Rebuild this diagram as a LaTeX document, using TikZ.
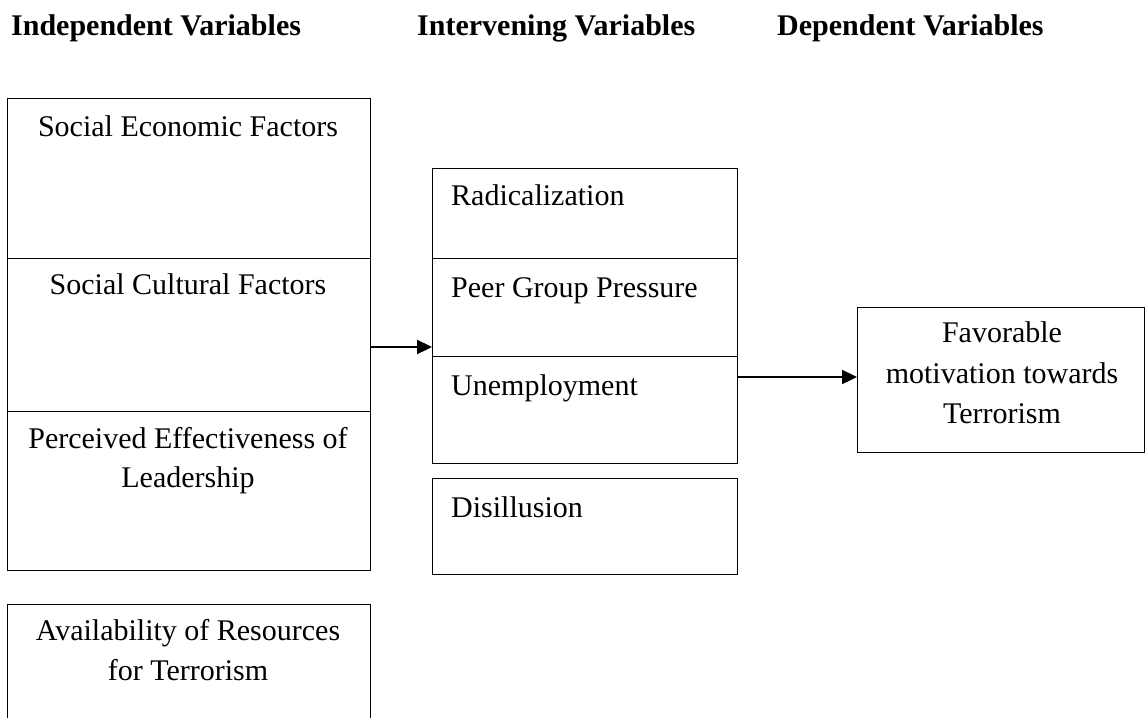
\documentclass[tikz,border=0pt]{standalone}
\usepackage{fontspec}
\setmainfont{Liberation Serif}
\usetikzlibrary{arrows.meta}
\begin{document}
\begin{tikzpicture}[x=1pt,y=-1pt,
  box/.style={draw, line width=1pt, inner sep=0pt, anchor=north west},
  txt/.style={anchor=base, inner sep=0pt, font=\fontsize{30}{40}\selectfont},
  ltxt/.style={anchor=base west, inner sep=0pt, font=\fontsize{30}{40}\selectfont},
  head/.style={anchor=base west, inner sep=0pt, font=\fontsize{30}{40}\selectfont\bfseries},
  arr/.style={line width=2.3pt, -{Triangle[length=15pt,width=14pt]}}]
\useasboundingbox (0,0) rectangle (1145,717);
\clip (0,0) rectangle (1145,717);
% headers
\node[head] (h1) at (11,36) {Independent Variables};
\node[head] (h2) at (417,36) {Intervening Variables};
\node[head] (h3) at (777,36) {Dependent Variables};
% left column
\node[box, minimum width=363pt, minimum height=160pt] (se) at (7,98) {};
\node[box, minimum width=363pt, minimum height=153pt] (sc) at (7,258) {};
\node[box, minimum width=363pt, minimum height=159pt] (pe) at (7,411) {};
\node[box, minimum width=363pt, minimum height=140pt] (av) at (7,604) {};
\node[txt] (tse) at (188,136) {Social Economic Factors};
\node[txt] (tsc) at (188,294) {Social Cultural Factors};
\node[txt] (tpe1) at (188,448) {Perceived Effectiveness of};
\node[txt] (tpe2) at (188,487) {Leadership};
\node[txt] (tav1) at (188,640) {Availability of Resources};
\node[txt] (tav2) at (188,680) {for Terrorism};
% middle column
\node[box, minimum width=305pt, minimum height=90pt] (rad) at (432,168) {};
\node[box, minimum width=305pt, minimum height=98pt] (peer) at (432,258) {};
\node[box, minimum width=305pt, minimum height=107pt] (unemp) at (432,356) {};
\node[box, minimum width=305pt, minimum height=96pt] (dis) at (432,478) {};
\node[ltxt] (trad) at (451,205) {Radicalization};
\node[ltxt] (tpeer) at (451,297) {Peer Group Pressure};
\node[ltxt] (tunemp) at (451,395) {Unemployment};
\node[ltxt] (tdis) at (451,517) {Disillusion};
% right
\node[box, minimum width=287pt, minimum height=145pt] (fav) at (857,307) {};
\node[txt] (tf1) at (1002,342) {Favorable};
\node[txt] (tf2) at (1002,383) {motivation towards};
\node[txt] (tf3) at (1002,423) {Terrorism};
% arrows
\coordinate (a1) at (0,347);
\coordinate (a2) at (0,377);
\draw[arr] (sc.east |- a1) -- (peer.west |- a1);
\draw[arr] (unemp.east |- a2) -- (fav.west |- a2);
\end{tikzpicture}
\end{document}
